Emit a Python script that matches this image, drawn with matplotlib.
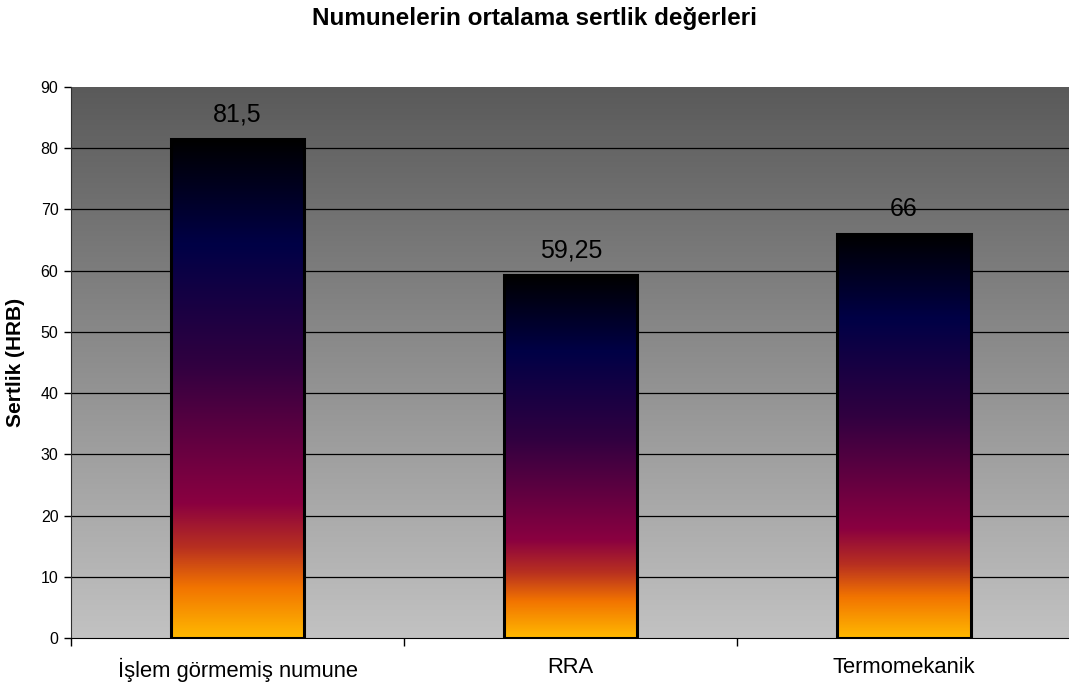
import numpy as np
import matplotlib.pyplot as plt
from matplotlib.colors import LinearSegmentedColormap

categories = ['İşlem görmemiş numune', 'RRA', 'Termomekanik']
hardness = [81.5, 59.25, 66]
value_labels = ['81,5', '59,25', '66']

plt.rcParams['font.family'] = ['Liberation Sans', 'DejaVu Sans']

# fire-like fill for the bars, bottom -> top
bar_cmap = LinearSegmentedColormap.from_list('fire', [
    (0.00, '#ffb800'),
    (0.10, '#f27400'),
    (0.18, '#b83020'),
    (0.27, '#8a0040'),
    (0.55, '#300040'),
    (0.79, '#000046'),
    (1.00, '#000000'),
])
bg_cmap = LinearSegmentedColormap.from_list('bg', ['#c2c2c2', '#5a5a5a'])

fig = plt.figure(figsize=(10.69, 6.89), dpi=100)
ax = fig.add_axes([0.0664, 0.074, 0.935, 0.7997])

x = np.arange(len(categories))
ax.set_xlim(-0.5, len(categories) - 0.5)
ax.set_ylim(0, 90)

# gray plot-area background, dark at the top
grad = np.linspace(0, 1, 256).reshape(-1, 1)
ax.imshow(grad, cmap=bg_cmap, origin='lower', aspect='auto',
          extent=(0, 1, 0, 1), transform=ax.transAxes, zorder=0)

for yv in range(10, 90, 10):
    ax.axhline(yv, color='black', lw=0.9, zorder=1)

bars = ax.bar(x, hardness, width=0.4, facecolor='none', edgecolor='black',
              linewidth=2.2, zorder=3)
for b in bars:
    x0, y0 = b.get_x(), b.get_y()
    w, h = b.get_width(), b.get_height()
    img = ax.imshow(grad, cmap=bar_cmap, origin='lower', aspect='auto',
                    extent=(x0, x0 + w, y0, y0 + h), zorder=2)
    img.set_clip_path(b)

for xi, v, lab in zip(x, hardness, value_labels):
    ax.annotate(lab, (xi, v), xytext=(0, 9), textcoords='offset points',
                ha='center', va='bottom', fontsize=18)

ax.set_xticks(x)
ax.set_xticklabels(categories, fontsize=15.8)
ax.tick_params(axis='x', which='major', length=0, pad=14)
ax.set_xticks(np.arange(-0.5, len(categories), 1), minor=True)
ax.tick_params(axis='x', which='minor', length=6, width=1)
ax.set_yticks(range(0, 91, 10))
ax.tick_params(axis='y', labelsize=11.5, length=5, width=1, pad=4)

ax.spines['top'].set_visible(False)
ax.spines['right'].set_visible(False)
ax.spines['left'].set_color('#303030')
ax.spines['bottom'].set_color('black')

ax.set_ylabel('Sertlik (HRB)', fontsize=15, fontweight='bold', labelpad=11)
fig.suptitle('Numunelerin ortalama sertlik değerleri', fontsize=17.5,
             fontweight='bold', y=0.99, va='top')

fig.savefig('out.png', dpi=100)
